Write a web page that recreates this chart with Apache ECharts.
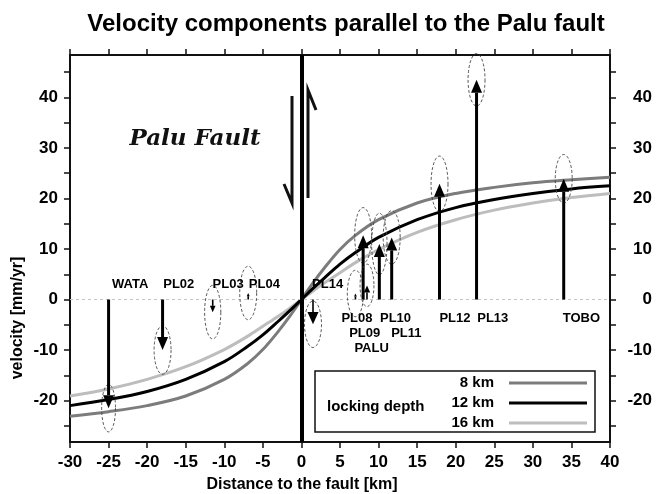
<!DOCTYPE html>
<html><head><meta charset="utf-8">
<script src="https://cdn.jsdelivr.net/npm/echarts@6/dist/echarts.min.js"></script>
<style>html,body{margin:0;padding:0;background:#fff}#c{width:661px;height:494px}</style>
</head><body><div id="c"></div>
<script>
// ---- data ----
const curveX  = [-30,-25,-20,-15,-10,-7,-5,-3,-1.5,0,1.5,3,5,7,10,15,20,25,30,35,40];
const depth8  = [-23.1,-22.2,-21.0,-19.1,-15.8,-12.7,-9.9,-6.3,-3.3,0,3.3,6.3,9.9,12.7,15.8,19.1,21.0,22.2,23.1,23.7,24.2];
const depth12 = [-21.0,-19.8,-18.2,-15.8,-12.3,-9.3,-7.0,-4.3,-2.2,0,2.2,4.3,7.0,9.3,12.3,15.8,18.2,19.8,21.0,21.9,22.5];
const depth16 = [-19.1,-17.7,-15.8,-13.3,-9.9,-7.3,-5.3,-3.3,-1.7,0,1.7,3.3,5.3,7.3,9.9,13.3,15.8,17.7,19.1,20.2,21.0];

const stationNames = ['WATA','PL02','PL03','PL04','PL14','PALU','PL08','PL09','PL10','PL11','PL12','PL13','TOBO'];
const stationX     = [-25,-18,-11.5,-6.9,1.5,7.0,8.0,8.5,10.1,11.7,17.9,22.7,34.0];
const stationV     = [-21.5,-10.0,-2.5,1.3,-4.9,1.2,12.7,2.8,11.0,12.3,22.9,43.5,23.9];
const sigmaX       = [0.9,1.1,1.05,1.1,1.1,1.05,1.1,0.9,1.0,1.1,1.1,1.1,1.1];
const sigmaV       = [4.7,4.8,5.3,5.3,4.6,4.6,5.5,4.2,6.1,5.3,5.5,5.2,4.8];
const labelX       = [-22.2,-15.9,-9.5,-4.8,3.4,9.1,7.2,8.2,12.2,13.6,19.9,24.8,36.3];
const labelY       = [2.9,2.9,2.9,2.9,2.9,-9.7,-3.8,-6.8,-3.8,-6.8,-3.8,-3.8,-3.8];

const xTicks      = [-30,-25,-20,-15,-10,-5,0,5,10,15,20,25,30,35,40];
const yTickValues = [-25,-20,-15,-10,-5,0,5,10,15,20,25,30,35,40,45];
const yLabelValues= [-20,-10,0,10,20,30,40];

const titleText = 'Velocity components parallel to the Palu fault';
const xName = 'Distance to the fault [km]';
const yName = 'velocity [mm/yr]';

// ---- chart ----
const FONT = 'Liberation Sans, Arial, Helvetica, sans-serif';
const chart = echarts.init(document.getElementById('c'), null, {renderer:'canvas'});
const pair = (xs, ys) => xs.map((x,i)=>[x, ys[i]]);

function axisCommon(pos, showLabel){
  return {
    type:'value', position:pos,
    axisLine:{show:true, onZero:false, lineStyle:{color:'#111', width:2}},
    axisTick:{show:true, inside:false, length:6, lineStyle:{color:'#111', width:1.5}},
    splitLine:{show:false},
    axisLabel:{show:showLabel, color:'#000', fontFamily:FONT, fontWeight:'bold', fontSize:17}
  };
}

const xBottom = Object.assign(axisCommon('bottom', true), {min:-30, max:40, interval:5});
xBottom.axisLabel.margin = 12;
const xTop = Object.assign(axisCommon('top', false), {min:-30, max:40, interval:5});
const yLeft = Object.assign(axisCommon('left', true), {min:-28.2, max:48.4});
yLeft.axisTick.customValues = yTickValues;
yLeft.axisLabel.customValues = yLabelValues;
yLeft.axisLabel.margin = 12;
const yRight = Object.assign(axisCommon('right', true), {min:-28.2, max:48.4});
yRight.axisTick.customValues = yTickValues;
yRight.axisLabel.customValues = yLabelValues;
yRight.axisLabel.align = 'right';
yRight.axisLabel.margin = 42;

function renderStation(params, api){
  const x = api.value(0), v = api.value(1), sx = api.value(2), sv = api.value(3);
  const p0 = api.coord([x, 0]);
  const p1 = api.coord([x, v]);
  const rx = api.size([sx, 0])[0];
  const ry = api.size([0, sv])[1];
  const pts = [];
  for (let i=0;i<60;i++){ const a=i/60*2*Math.PI; pts.push([p1[0]+rx*Math.cos(a), p1[1]+ry*Math.sin(a)]); }
  const dy = p1[1]-p0[1], len = Math.abs(dy), dir = dy<0?-1:1;
  const big = len > 26;
  const hl = big ? 13 : len*0.5;
  const hw = big ? 5.5 : Math.max(hl*0.45, 1.2);
  const children = [{type:'polygon', shape:{points:pts}, style:{fill:'none', stroke:'#444', lineWidth:0.9, lineDash:[3,2]}}];
  if (len > 3){
    const baseY = p1[1]-dir*hl;
    children.push({type:'line', shape:{x1:p0[0],y1:p0[1],x2:p0[0],y2:baseY}, style:{stroke:'#000', lineWidth: big?3:1.6}});
    children.push({type:'polygon', shape:{points:[[p1[0],p1[1]],[p1[0]-hw,baseY],[p1[0]+hw,baseY]]}, style:{fill:'#000'}});
  } else {
    children.push({type:'circle', shape:{cx:p1[0], cy:p1[1], r:1.3}, style:{fill:'#000'}});
  }
  return {type:'group', children};
}
function renderLabel(params, api){
  const p = api.coord([api.value(0), api.value(1)]);
  return {type:'text', x:p[0], y:p[1], style:{text: stationNames[params.dataIndex], fill:'#000',
    font:'bold 13px '+FONT, align:'center', verticalAlign:'middle'}};
}

const lineSeries = (name, ys, color, z) => ({
  name, type:'line', data:pair(curveX, ys), smooth:0.35, showSymbol:false, symbol:'none',
  lineStyle:{color, width:3}, itemStyle:{color}, z, silent:true
});

const s16 = lineSeries('16 km', depth16, '#bdbdbd', 2);
s16.markLine = {
  silent:true, symbol:['none','none'], label:{show:false},
  data:[
    {yAxis:0, lineStyle:{color:'#c4c4c4', width:1, type:[3,3]}},
    {xAxis:0, lineStyle:{color:'#000', width:4, type:'solid'}}
  ]
};

const option = {
  animation:false,
  backgroundColor:'#fff',
  title:{text:titleText, left:341, top:7, textAlign:'center',
    textStyle:{fontFamily:FONT, fontWeight:'bold', fontSize:24, color:'#000'}},
  grid:{left:70, right:51, top:55, bottom:52, containLabel:false},
  xAxis:[xBottom, xTop],
  yAxis:[yLeft, yRight],
  legend:{
    data:['8 km','12 km','16 km'], orient:'vertical', align:'right',
    right:74, top:373, padding:0, itemGap:0, itemWidth:78, itemHeight:3, icon:'rect',
    selectedMode:false,
    textStyle:{fontFamily:FONT, fontWeight:'bold', fontSize:15, color:'#000', lineHeight:20, padding:[0,10,0,0]}
  },
  series:[
    s16,
    lineSeries('8 km', depth8, '#7c7c7c', 3),
    lineSeries('12 km', depth12, '#000000', 4),
    {type:'custom', name:'stations', renderItem:renderStation, z:6, silent:true,
     data: stationX.map((x,i)=>[x, stationV[i], sigmaX[i], sigmaV[i]])},
    {type:'custom', name:'labels', renderItem:renderLabel, z:7, silent:true,
     data: labelX.map((x,i)=>[x, labelY[i]])}
  ],
  graphic:[
    {type:'text', x:195, y:139, style:{text:'Palu Fault', fill:'#111',
      font:'italic bold 23px DejaVu Serif, serif', align:'center', verticalAlign:'middle'}},
    // fault sense-of-slip symbol
    {type:'polyline', shape:{points:[[292,96],[292,203],[284,184]]}, style:{stroke:'#111', lineWidth:3, fill:null}},
    {type:'polyline', shape:{points:[[316,110],[308,90],[308,198]]}, style:{stroke:'#111', lineWidth:3, fill:null}},
    // legend frame
    {type:'rect', shape:{x:315, y:371, width:280, height:61}, style:{fill:'none', stroke:'#111', lineWidth:1.5}, z:1},
    {type:'text', x:327, y:407, style:{text:'locking depth', fill:'#000', font:'bold 15px '+FONT, align:'left', verticalAlign:'middle'}},
    // axis names
    {type:'text', x:302, y:485, style:{text:xName, fill:'#000', font:'bold 16px '+FONT, align:'center', verticalAlign:'middle'}},
    {type:'text', x:18, y:318, rotation:Math.PI/2, style:{text:yName, fill:'#000', font:'bold 16px '+FONT, align:'center', verticalAlign:'middle'}}
  ]
};
chart.setOption(option);
</script></body></html>
